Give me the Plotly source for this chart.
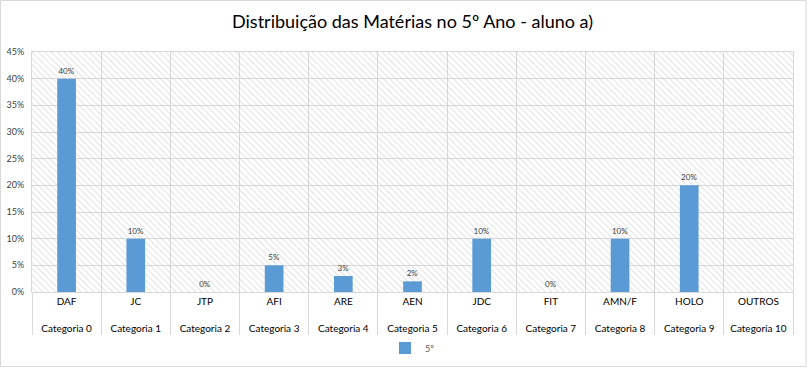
import plotly.graph_objects as go

materias = ["DAF", "JC", "JTP", "AFI", "ARE", "AEN", "JDC", "FIT", "AMN/F", "HOLO", "OUTROS"]
categorias = [f"Categoria {i}" for i in range(11)]
valores_5 = [0.40, 0.10, 0.00, 0.05, 0.03, 0.02, 0.10, 0.00, 0.10, 0.20, None]
y_ticks = [0, 0.05, 0.10, 0.15, 0.20, 0.25, 0.30, 0.35, 0.40, 0.45]
y_max = 0.45

x = [["<br>" + c for c in categorias], materias]
font_family = "Lato, Carlito, 'Open Sans', sans-serif"

fig = go.Figure()

# hatched plot-area background
fig.add_trace(go.Bar(
    x=x, y=[y_max] * len(materias), width=1,
    marker=dict(color="rgba(0,0,0,0)", line=dict(width=0),
                pattern=dict(shape="\\", fgcolor="#c4c4c4", size=4.5, solidity=0.25)),
    showlegend=False, hoverinfo="skip",
))

fig.add_trace(go.Bar(
    x=x, y=valores_5, name="5º", width=0.27,
    marker=dict(color="#5b9bd5", line=dict(width=0)),
    texttemplate="%{y:.0%}", textposition="outside",
    textfont=dict(size=8, color="#404040", family=font_family),
    cliponaxis=False,
))

fig.update_layout(
    width=808, height=368,
    margin=dict(l=32, r=15, t=52, b=76, autoexpand=False),
    paper_bgcolor="white", plot_bgcolor="white",
    barmode="overlay",
    title=dict(text="Distribuição das Matérias no 5º Ano - aluno a)",
               x=0.5, xanchor="center", xref="paper",
               y=1 - 22 / 368, yanchor="middle", yref="container",
               font=dict(size=18, color="#000000", family=font_family)),
    showlegend=True,
    legend=dict(orientation="h", x=0.5, xanchor="center", y=-56 / 240, yanchor="middle",
                font=dict(size=9, color="#595959", family=font_family),
                itemwidth=30),
    font=dict(family=font_family),
)

fig.update_xaxes(
    type="multicategory", automargin=False,
    showgrid=True, gridcolor="#d9d9d9", gridwidth=1,
    tickson="boundaries", ticks="", showdividers=True,
    dividercolor="#d9d9d9", dividerwidth=1,
    showline=True, linecolor="#d9d9d9", linewidth=1,
    tickfont=dict(size=10, color="#000000", family=font_family),
    mirror=True,
)
fig.update_yaxes(
    automargin=False,
    range=[0, y_max], tickvals=y_ticks, tickformat=".0%",
    showgrid=True, gridcolor="#d9d9d9", gridwidth=1,
    tickfont=dict(size=9, color="#404040", family=font_family),
    showline=True, linecolor="#d9d9d9", mirror=True, zeroline=False,
    ticks="", ticklabelstandoff=5,
)

fig.add_shape(type="rect", xref="paper", yref="paper",
              x0=-31.5/761, x1=1 + 13/761, y0=-74.5/240, y1=1 + 51.5/240,
              line=dict(color="#d9d9d9", width=1))

fig.write_html("out.html", config={"displayModeBar": False},
               post_script="document.body.style.margin='0';document.body.style.overflow='hidden';")
